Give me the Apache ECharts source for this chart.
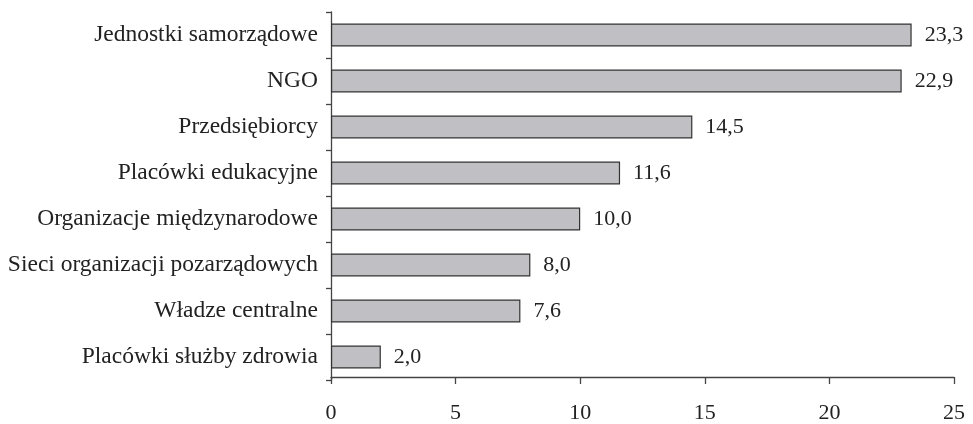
<!DOCTYPE html>
<html><head><meta charset="utf-8">
<script src="https://cdn.jsdelivr.net/npm/echarts@6/dist/echarts.min.js"></script>
<style>html,body{margin:0;padding:0;background:#fff}#c{width:973px;height:424px}</style>
</head><body><div id="c"></div>
<script>
const categories = ["Jednostki samorządowe","NGO","Przedsiębiorcy","Placówki edukacyjne","Organizacje międzynarodowe","Sieci organizacji pozarządowych","Władze centralne","Placówki służby zdrowia"];
const values = [23.3, 22.9, 14.5, 11.6, 10.0, 8.0, 7.6, 2.0];
const xTicks = [0, 5, 10, 15, 20, 25];
const font = "'Liberation Serif', 'DejaVu Serif', serif";
const chart = echarts.init(document.getElementById('c'));
chart.setOption({
  animation: false,
  grid: {left: 331, right: 19, top: 12, bottom: 38, containLabel: false},
  xAxis: {
    type: 'value', min: xTicks[0], max: xTicks[xTicks.length-1], interval: 5, offset: -3,
    axisLine: {show: true, lineStyle: {color: '#444', width: 1.3}},
    axisTick: {show: true, length: 7, lineStyle: {color: '#444', width: 1.3}},
    axisLabel: {fontFamily: font, fontSize: 22, color: '#222', margin: 25},
    splitLine: {show: false}
  },
  yAxis: {
    type: 'category', data: categories, inverse: true,
    axisLine: {show: true, lineStyle: {color: '#444', width: 1.3}},
    axisTick: {show: true, length: 5, lineStyle: {color: '#444', width: 1.3}},
    axisLabel: {fontFamily: font, fontSize: 23.5, color: '#222', margin: 13}
  },
  series: [{
    type: 'bar', data: values, barWidth: 23,
    itemStyle: {color: '#c0c0c4', borderColor: '#333', borderWidth: 1.2},
    label: {show: true, position: 'right', distance: 13, fontFamily: font, fontSize: 22, color: '#222',
      formatter: p => p.value.toFixed(1).replace('.', ',')}
  }]
});
</script></body></html>
